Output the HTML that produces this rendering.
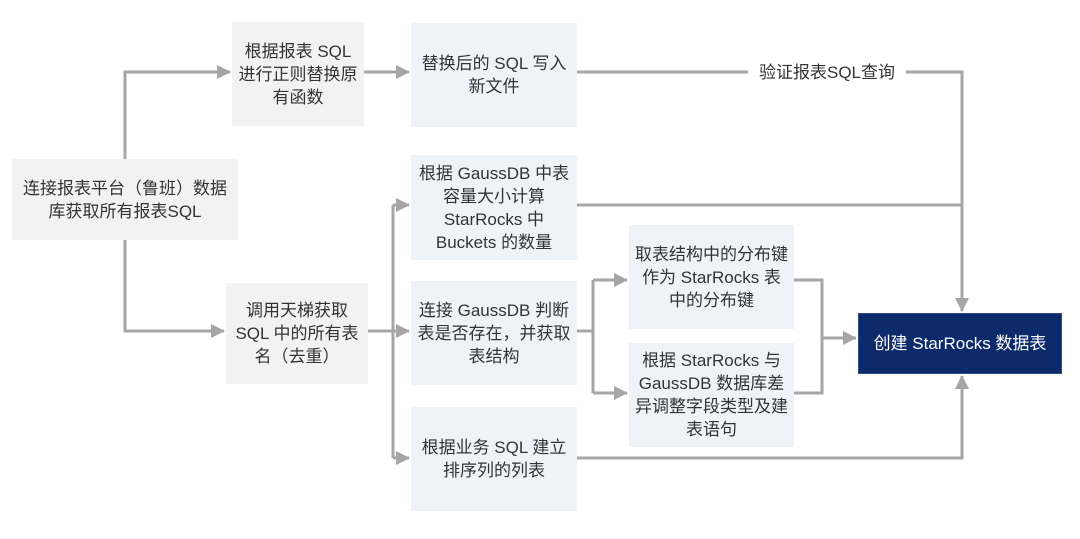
<!DOCTYPE html>
<html><head><meta charset="utf-8"><style>
body{margin:0;width:1080px;height:539px;background:#fff;position:relative;overflow:hidden;font-family:"Liberation Sans","Noto Sans CJK SC",sans-serif;}
.b{position:absolute;display:flex;align-items:center;justify-content:center;text-align:center;font-size:17px;line-height:23px;color:#333;box-sizing:border-box;padding:0 6px;}
.g{background:#f2f2f2}.l{background:#eef3fa}
.d{background:#0d2a6b;color:#fff;border:1px solid #2a4a8a}
svg{position:absolute;left:0;top:0}
</style></head><body>
<svg width="1080" height="539">
<defs><marker id="a" markerWidth="8" markerHeight="8" refX="7" refY="4" orient="auto" markerUnits="userSpaceOnUse"><path d="M0,0 L8,4 L0,8z" fill="#a6a6a6"/></marker>
<marker id="m" markerWidth="14" markerHeight="14" refX="13" refY="7" orient="auto" markerUnits="userSpaceOnUse"><path d="M0,0 L14,7 L0,14z" fill="#a6a6a6"/></marker></defs>
<g fill="none" stroke="#a6a6a6" stroke-width="3">
<path d="M125 159 V72 H230" marker-end="url(#m)"/>
<path d="M364 72 H409" marker-end="url(#m)"/>
<path d="M577 72 H748 M906 72 H962 V311" marker-end="url(#m)"/>
<path d="M577 205 H962"/>
<path d="M125 240 V331 H224" marker-end="url(#m)"/>
<path d="M368 331 H409" marker-end="url(#m)"/>
<path d="M393 205 V458"/>
<path d="M393 205 H409" marker-end="url(#m)"/>
<path d="M393 458 H409" marker-end="url(#m)"/>
<path d="M577 331 H593"/>
<path d="M593 280 V393"/>
<path d="M593 280 H627" marker-end="url(#m)"/>
<path d="M593 393 H627" marker-end="url(#m)"/>
<path d="M794 280 H822 V393 H794"/>
<path d="M822 338 H856" marker-end="url(#m)"/>
<path d="M577 458 H962 V376" marker-end="url(#m)"/>
</g>
<text x="827" y="78" font-size="17" fill="#333" text-anchor="middle" font-family="Liberation Sans, Noto Sans CJK SC, sans-serif">验证报表SQL查询</text>
</svg>
<div class="b g" style="left:12px;top:159px;width:226px;height:81px">连接报表平台（鲁班）数据库获取所有报表SQL</div>
<div class="b g" style="left:232px;top:22px;width:132px;height:104px">根据报表 SQL 进行正则替换原有函数</div>
<div class="b l" style="left:411px;top:23px;width:166px;height:104px">替换后的 SQL 写入新文件</div>
<div class="b l" style="left:411px;top:155px;width:166px;height:105px">根据 GaussDB 中表容量大小计算 StarRocks 中 Buckets 的数量</div>
<div class="b g" style="left:226px;top:283px;width:142px;height:101px">调用天梯获取 SQL 中的所有表名（去重）</div>
<div class="b l" style="left:411px;top:281px;width:166px;height:104px">连接 GaussDB 判断表是否存在，并获取表结构</div>
<div class="b l" style="left:411px;top:407px;width:166px;height:104px">根据业务 SQL 建立排序列的列表</div>
<div class="b l" style="left:629px;top:225px;width:165px;height:104px">取表结构中的分布键作为 StarRocks 表中的分布键</div>
<div class="b l" style="left:629px;top:343px;width:165px;height:104px">根据 StarRocks 与GaussDB 数据库差异调整字段类型及建表语句</div>
<div class="b d" style="left:858px;top:313px;width:204px;height:61px">创建 StarRocks 数据表</div>
</body></html>
